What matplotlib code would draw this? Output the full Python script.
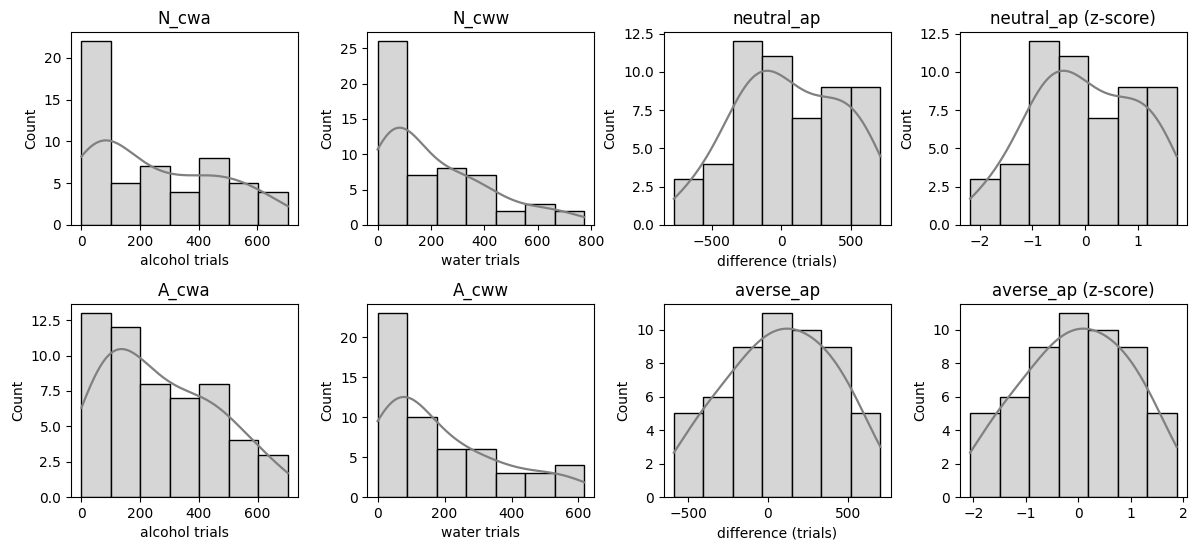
import matplotlib
matplotlib.use("Agg")
import matplotlib.pyplot as plt
import seaborn as sns
import numpy as np

# histogram counts per bin (7 bins each)
n_cwa_counts = [22, 5, 7, 4, 8, 5, 4]
n_cww_counts = [26, 7, 8, 7, 2, 3, 2]
neutral_counts = [3, 4, 12, 11, 7, 9, 9]
a_cwa_counts = [13, 12, 8, 7, 8, 4, 3]
a_cww_counts = [23, 10, 6, 6, 3, 3, 4]
averse_counts = [5, 6, 9, 11, 10, 9, 5]

# data range (min, max) of each variable
n_cwa_range = (0, 705)
n_cww_range = (0, 775)
neutral_range = (-770, 708)
neutral_z_range = (-2.18, 1.727)
a_cwa_range = (0, 703)
a_cww_range = (0, 617)
averse_range = (-591, 706)
averse_z_range = (-2.06, 1.87)

panels = [
    ("N_cwa", n_cwa_counts, n_cwa_range, "alcohol trials"),
    ("N_cww", n_cww_counts, n_cww_range, "water trials"),
    ("neutral_ap", neutral_counts, neutral_range, "difference (trials)"),
    ("neutral_ap (z-score)", neutral_counts, neutral_z_range, ""),
    ("A_cwa", a_cwa_counts, a_cwa_range, "alcohol trials"),
    ("A_cww", a_cww_counts, a_cww_range, "water trials"),
    ("averse_ap", averse_counts, averse_range, "difference (trials)"),
    ("averse_ap (z-score)", averse_counts, averse_z_range, ""),
]


def samples(counts, rng):
    # put each observation at the centre of its bin
    lo, hi = rng
    w = (hi - lo) / len(counts)
    centres = [lo + (i + 0.5) * w for i in range(len(counts))]
    return np.repeat(centres, counts)


fig, axes = plt.subplots(2, 4, figsize=(11.98, 5.41), dpi=100)
fig.subplots_adjust(left=0.0593, right=0.9908, top=0.9409, bottom=0.0813,
                    wspace=0.304, hspace=0.41)

for ax, (title, counts, rng, xlabel) in zip(axes.flat, panels):
    x = samples(counts, rng)
    sns.histplot(x=x, bins=len(counts), binrange=rng, kde=True, ax=ax,
                 color="#d6d6d6", alpha=1, edgecolor="black", linewidth=1.0,
                 kde_kws={"cut": 3, "clip": rng, "bw_adjust": 1.15})
    ax.lines[-1].set_color("#808080")
    ax.lines[-1].set_linewidth(1.6)
    ax.set_title(title)
    ax.set_xlabel(xlabel)
    ax.set_ylabel("Count")

plt.savefig("out.png", dpi=100)
